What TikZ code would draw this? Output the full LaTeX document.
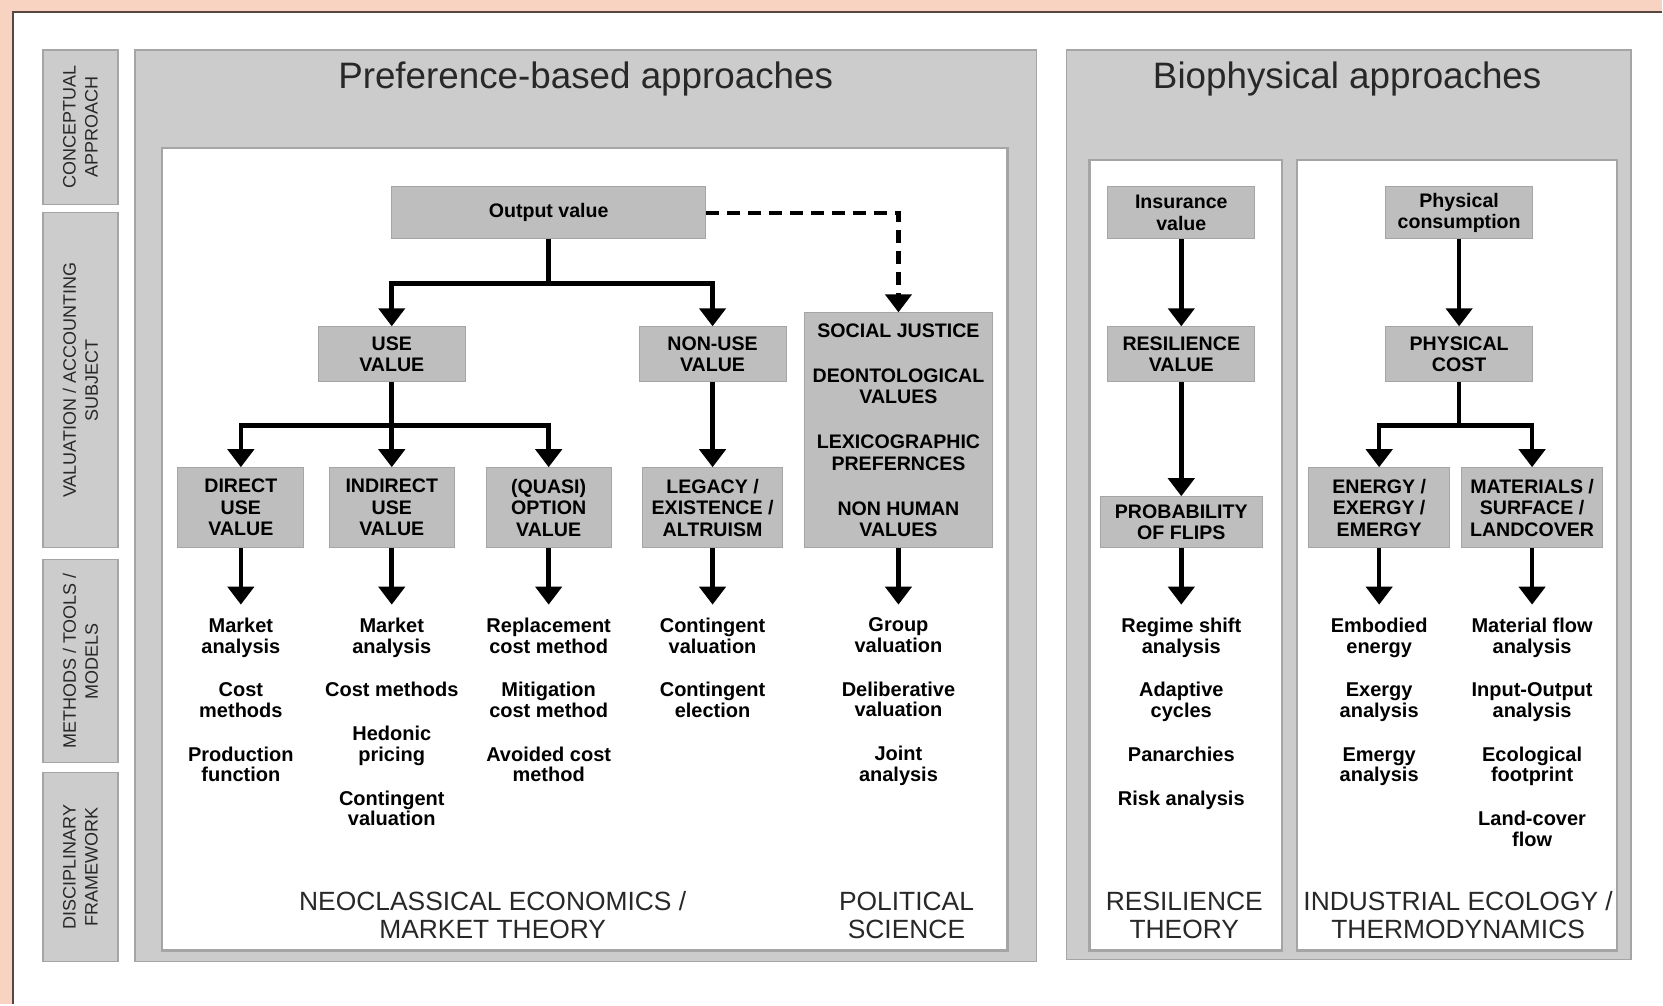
\documentclass[tikz,border=0pt]{standalone}
\usepackage{fontspec}
\setmainfont{Liberation Sans}
\usetikzlibrary{arrows.meta, positioning}

\definecolor{peach}{RGB}{249,211,193}
\definecolor{panelgray}{RGB}{204,204,204}
\definecolor{boxgray}{RGB}{190,190,190}
\definecolor{edgegray}{RGB}{165,165,165}
\definecolor{framedark}{RGB}{88,70,64}
\definecolor{titlegray}{RGB}{40,40,40}

\begin{document}
\begin{tikzpicture}[x=0.5pt, y=-0.5pt,
    panel/.style={fill=panelgray, draw=edgegray, line width=0.6pt},
    inner/.style={fill=white, draw=edgegray, line width=1.2pt},
    sidebox/.style={rotate=90, fill=panelgray, draw=edgegray, line width=0.6pt,
                minimum height=37.5pt, inner sep=0pt, align=center,
                font=\fontsize{9}{11}\selectfont, text=titlegray},
    box/.style={fill=boxgray, draw=edgegray, line width=0.5pt, inner sep=0pt,
                align=center, font=\bfseries\fontsize{9.8}{10.75}\selectfont},
    methods/.style={anchor=north, inner sep=0pt, align=center,
                font=\bfseries\fontsize{10}{10.25}\selectfont},
    title/.style={font=\fontsize{18.4}{20}\selectfont, text=titlegray, inner sep=0pt},
    field/.style={font=\fontsize{13.2}{14}\selectfont, text=titlegray, align=center, inner sep=0pt},
    arr/.style={-{Triangle[length=9pt, width=13pt]}, line width=2.3pt},
    dasharr/.style={arr, dash pattern=on 6.5pt off 4pt}
]
    % frame and background
    \fill[peach] (0,0) rectangle (1663,1005);
    \fill[white] (13,12) rectangle (1663,1005);
    \draw[framedark, line width=1pt] (13,1005) -- (13,12) -- (1663,12);
    \useasboundingbox (0,0) rectangle (1663,1005);

    % row labels
    \node[sidebox, minimum width=77.5pt]  (sb1) at (80.5,127.5) {CONCEPTUAL\\APPROACH};
    \node[sidebox, minimum width=167.5pt] (sb2) at (80.5,380.5) {VALUATION / ACCOUNTING\\SUBJECT};
    \node[sidebox, minimum width=101.5pt] (sb3) at (80.5,661.5) {METHODS / TOOLS /\\MODELS};
    \node[sidebox, minimum width=94.5pt]  (sb4) at (80.5,867.5) {DISCIPLINARY\\FRAMEWORK};

    % panels
    \draw[panel] (135,50) rectangle (1037,962);
    \draw[inner] (162,148) rectangle (1008,951);
    \draw[panel] (1067,50) rectangle (1632,960);
    \draw[inner] (1090,160) rectangle (1283,951);
    \draw[inner] (1298,160) rectangle (1618,951);

    \node[title] (preftitle) at (586,79.5) {Preference-based approaches};
    \node[title] (biotitle) at (1348,79.5) {Biophysical approaches};

    % preference-based
    \node[box, minimum width=157pt, minimum height=26pt] (out) at (549,213) {Output value};
    \node[box, minimum width=73.5pt, minimum height=27.5pt] (use) at (392,354.5) {USE\\VALUE};
    \node[box, minimum width=73.5pt, minimum height=27.5pt] (nonuse) at (713,354.5) {NON-USE\\VALUE};
    \node[box, minimum width=63pt, minimum height=40pt] (direct) at (241,508) {DIRECT\\USE\\VALUE};
    \node[box, minimum width=62.5pt, minimum height=40pt] (indirect) at (392,508) {INDIRECT\\USE\\VALUE};
    \node[box, minimum width=62.5pt, minimum height=40pt] (quasi) at (549,508) {(QUASI)\\OPTION\\VALUE};
    \node[box, minimum width=70pt, minimum height=40pt] (legacy) at (713,508) {LEGACY /\\EXISTENCE /\\ALTRUISM};
    \node[box, minimum width=94pt, minimum height=117.5pt] (social) at (899,430.5)
        {SOCIAL JUSTICE\\[11.75pt] DEONTOLOGICAL\\VALUES\\[11.75pt] LEXICOGRAPHIC\\PREFERNCES\\[11.75pt] NON HUMAN\\VALUES};

    \node[methods] (m-direct) at (241,618)
        {Market\\analysis\\[11.75pt] Cost\\methods\\[11.75pt] Production\\function};
    \node[methods] (m-indirect) at (392,618)
        {Market\\analysis\\[11.75pt] Cost methods\\[11.75pt] Hedonic\\pricing\\[11.75pt] Contingent\\valuation};
    \node[methods] (m-quasi) at (549,618)
        {Replacement\\cost method\\[11.75pt] Mitigation\\cost method\\[11.75pt] Avoided cost\\method};
    \node[methods] (m-legacy) at (713,618)
        {Contingent\\valuation\\[11.75pt] Contingent\\election};
    \node[methods] (m-social) at (899,618)
        {Group\\valuation\\[11.75pt] Deliberative\\valuation\\[11.75pt] Joint\\analysis};

    \node[field] (neo) at (493,916) {NEOCLASSICAL ECONOMICS /\\MARKET THEORY};
    \node[field] (polsci) at (907,916) {POLITICAL\\SCIENCE};

    % biophysical
    \node[box, minimum width=73.5pt, minimum height=26pt] (insur) at (1182,213) {Insurance\\value};
    \node[box, minimum width=73.5pt, minimum height=27.5pt] (resil) at (1182,354.5) {RESILIENCE\\VALUE};
    \node[box, minimum width=81pt, minimum height=25.5pt] (prob) at (1182,522.5) {PROBABILITY\\OF FLIPS};
    \node[box, minimum width=73.5pt, minimum height=26pt] (phys) at (1460,213) {Physical\\consumption};
    \node[box, minimum width=73.5pt, minimum height=27.5pt] (pcost) at (1460,354.5) {PHYSICAL\\COST};
    \node[box, minimum width=70.5pt, minimum height=40pt] (energy) at (1380,508) {ENERGY /\\EXERGY /\\EMERGY};
    \node[box, minimum width=70.5pt, minimum height=40pt] (mater) at (1533,508) {MATERIALS /\\SURFACE /\\LANDCOVER};

    \node[methods] (m-prob) at (1182,618)
        {Regime shift\\analysis\\[11.75pt] Adaptive\\cycles\\[11.75pt] Panarchies\\[11.75pt] Risk analysis};
    \node[methods] (m-energy) at (1380,618)
        {Embodied\\energy\\[11.75pt] Exergy\\analysis\\[11.75pt] Emergy\\analysis};
    \node[methods] (m-mater) at (1533,618)
        {Material flow\\analysis\\[11.75pt] Input-Output\\analysis\\[11.75pt] Ecological\\footprint\\[11.75pt] Land-cover\\flow};

    \node[field] (restheory) at (1185,916) {RESILIENCE\\THEORY};
    \node[field] (indeco) at (1459,916) {INDUSTRIAL ECOLOGY /\\THERMODYNAMICS};

    % connectors
    \draw[arr] (out.south) -- ++(0,44) -| (use.north);
    \draw[arr] (out.south) -- ++(0,44) -| (nonuse.north);
    \draw[dasharr] (out.east) -| (social.north);
    \draw[arr] (use.south) -- ++(0,43) -| (direct.north);
    \draw[arr] (use.south) -- (indirect.north);
    \draw[arr] (use.south) -- ++(0,43) -| (quasi.north);
    \draw[arr] (nonuse.south) -- (legacy.north);

    \draw[arr, shorten >=6.5pt] (direct.south) -- (m-direct.north);
    \draw[arr, shorten >=6.5pt] (indirect.south) -- (m-indirect.north);
    \draw[arr, shorten >=6.5pt] (quasi.south) -- (m-quasi.north);
    \draw[arr, shorten >=6.5pt] (legacy.south) -- (m-legacy.north);
    \draw[arr, shorten >=6.5pt] (social.south) -- (m-social.north);

    \draw[arr] (insur.south) -- (resil.north);
    \draw[arr] (resil.south) -- (prob.north);
    \draw[arr] (phys.south) -- (pcost.north);
    \draw[arr] (pcost.south) -- ++(0,43) -| (energy.north);
    \draw[arr] (pcost.south) -- ++(0,43) -| (mater.north);

    \draw[arr, shorten >=6.5pt] (prob.south) -- (m-prob.north);
    \draw[arr, shorten >=6.5pt] (energy.south) -- (m-energy.north);
    \draw[arr, shorten >=6.5pt] (mater.south) -- (m-mater.north);
\end{tikzpicture}
\end{document}
